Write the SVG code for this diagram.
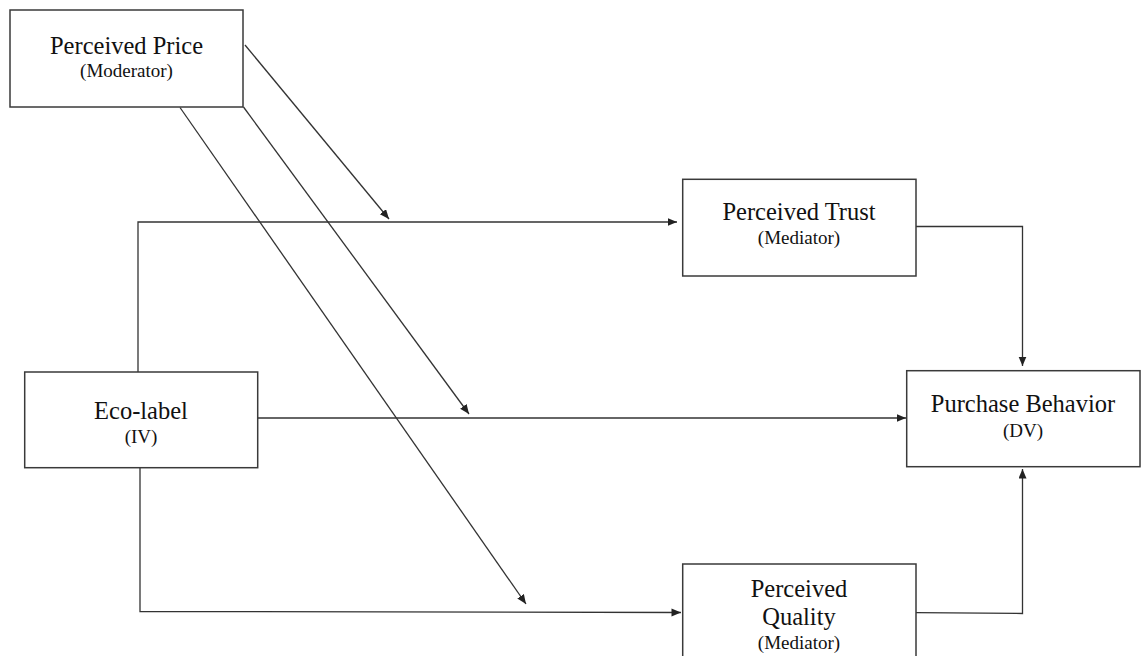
<svg xmlns="http://www.w3.org/2000/svg" width="1147" height="656" viewBox="0 0 1147 656">
<style>
.box{fill:#fff;stroke:#3a3a3a;stroke-width:1.5}
.t{font-family:"Liberation Serif","Times New Roman",serif;fill:#111;text-anchor:middle}
.m{font-size:24.5px}
.s{font-size:19px}
.c{fill:none;stroke:#333;stroke-width:1.3}
</style>
<defs>
<marker id="ah" markerUnits="userSpaceOnUse" markerWidth="10" markerHeight="9" refX="9.5" refY="4" orient="auto">
<path d="M0,0 L9.5,4 L0,8 z" fill="#222"/>
</marker>
</defs>
<g id="connectors">
<path class="c" d="M138,372 V222 H677" marker-end="url(#ah)"/>
<path class="c" d="M258,418 H906" marker-end="url(#ah)"/>
<path class="c" d="M140,468 V611.5 L681,612.5" marker-end="url(#ah)"/>
<path class="c" d="M916,226.5 H1022.5 V366" marker-end="url(#ah)"/>
<path class="c" d="M916,612.7 L1022.5,613.5 V469" marker-end="url(#ah)"/>
<path class="c" d="M245,45 L389,219" marker-end="url(#ah)"/>
<path class="c" d="M243.5,107 L469,414" marker-end="url(#ah)"/>
<path class="c" d="M180,107.5 L526,604" marker-end="url(#ah)"/>
</g>
<g id="perceived-price">
<rect class="box" x="10" y="10" width="233" height="97"/>
<text class="t m" x="126.5" y="54">Perceived Price</text>
<text class="t s" x="126.5" y="77">(Moderator)</text>
</g>
<g id="perceived-trust">
<rect class="box" x="682.7" y="179.3" width="233.3" height="96.7"/>
<text class="t m" x="799" y="219.5">Perceived Trust</text>
<text class="t s" x="799" y="244">(Mediator)</text>
</g>
<g id="eco-label">
<rect class="box" x="24.7" y="372" width="233" height="95.7"/>
<text class="t m" x="141" y="419">Eco-label</text>
<text class="t s" x="141" y="443">(IV)</text>
</g>
<g id="purchase-behavior">
<rect class="box" x="906.7" y="370.7" width="233.3" height="96"/>
<text class="t m" x="1023" y="411.5">Purchase Behavior</text>
<text class="t s" x="1023" y="437">(DV)</text>
</g>
<g id="perceived-quality">
<rect class="box" x="682.7" y="564" width="233.3" height="110"/>
<text class="t m" x="799" y="597">Perceived</text>
<text class="t m" x="799" y="625">Quality</text>
<text class="t s" x="799" y="649">(Mediator)</text>
</g>
</svg>
